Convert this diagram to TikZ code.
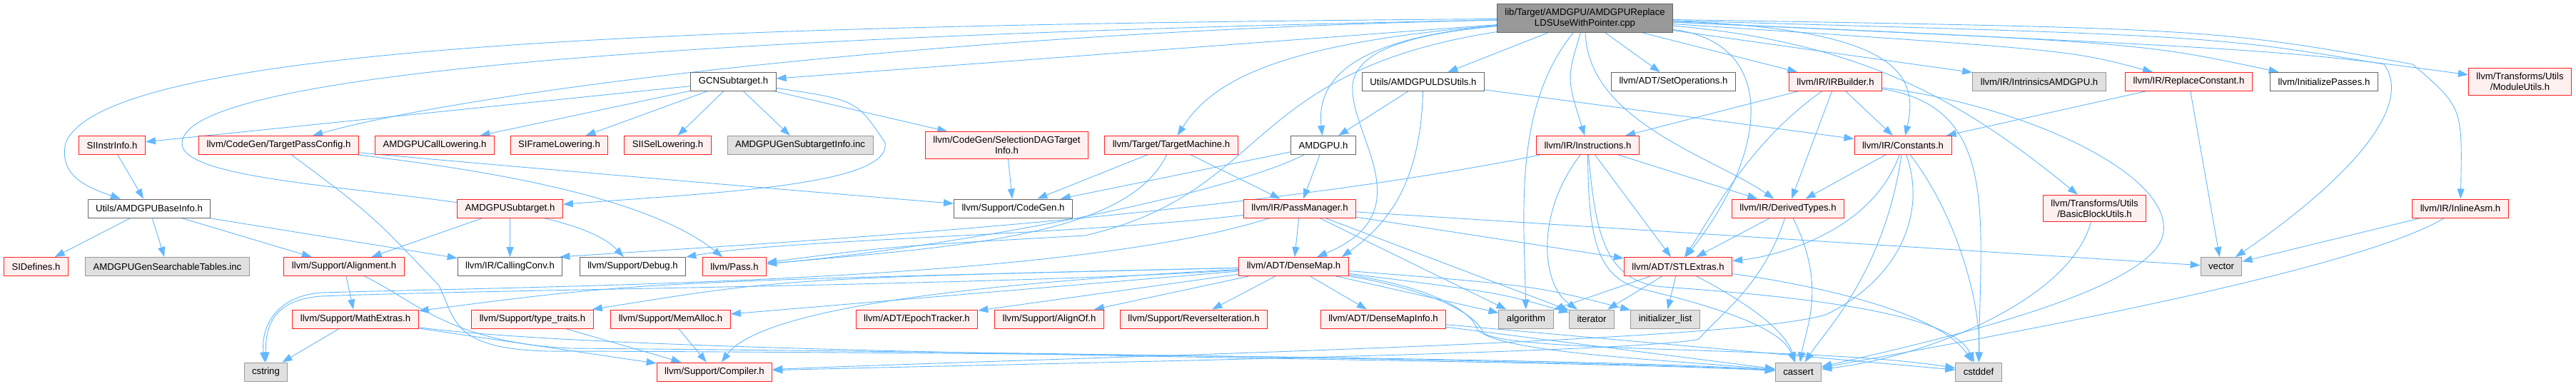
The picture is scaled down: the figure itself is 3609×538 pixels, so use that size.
\documentclass[tikz,border=0pt]{standalone}
\usepackage{fontspec}
\setmainfont{Liberation Sans}
\usetikzlibrary{arrows.meta}
\definecolor{inclblue}{HTML}{63B8FF}
\definecolor{truncred}{HTML}{FF2020}
\definecolor{truncfill}{HTML}{FFF0F0}
\definecolor{sysfill}{HTML}{E0E0E0}
\definecolor{sysgray}{HTML}{999999}
\definecolor{hdrgray}{HTML}{666666}
\pgfdeclarelayer{edges}
\pgfsetlayers{edges,main}
\tikzset{
  file/.style={rectangle, font=\fontsize{13.15}{15}\selectfont, align=center,
    inner xsep=11pt, inner ysep=6.5pt, minimum height=26pt, line width=1pt},
  root/.style={file, draw=hdrgray, fill=sysgray},
  hdr/.style={file, draw=hdrgray, fill=white},
  trunc/.style={file, draw=truncred, fill=truncfill},
  sys/.style={file, draw=sysgray, fill=sysfill},
  incl/.style={->, draw=inclblue, line width=0.9pt}
}
\begin{document}
\begin{tikzpicture}[x=1pt, y=-1pt, >={Triangle[length=14pt,width=10pt]}]
  \useasboundingbox (0,0) rectangle (3609,538);
  \node[root] (cpp) at (2220.5,25.5) {lib/Target/AMDGPU/AMDGPUReplace\\LDSUseWithPointer.cpp};
  % row 1
  \node[hdr] (gcn) at (1027.5,114.5) {GCNSubtarget.h};
  \node[hdr] (ldsutils) at (1994,114.5) {Utils/AMDGPULDSUtils.h};
  \node[hdr] (setops) at (2344.5,114.5) {llvm/ADT/SetOperations.h};
  \node[trunc] (irbuilder) at (2571.5,114.5) {llvm/IR/IRBuilder.h};
  \node[sys] (intrin) at (2857,114.5) {llvm/IR/IntrinsicsAMDGPU.h};
  \node[trunc] (replconst) at (3066.5,114.5) {llvm/IR/ReplaceConstant.h};
  \node[hdr] (initpasses) at (3256,114.5) {llvm/InitializePasses.h};
  \node[trunc] (modutils) at (3530.5,114.5) {llvm/Transforms/Utils\\/ModuleUtils.h};
  % row 2
  \node[trunc] (siinstr) at (157,203.5) {SIInstrInfo.h};
  \node[trunc] (tpc) at (390.5,203.5) {llvm/CodeGen/TargetPassConfig.h};
  \node[trunc] (calllow) at (609,203.5) {AMDGPUCallLowering.h};
  \node[trunc] (sifl) at (783.5,203.5) {SIFrameLowering.h};
  \node[trunc] (siisel) at (935.5,203.5) {SIISelLowering.h};
  \node[sys] (gensubt) at (1121,203.5) {AMDGPUGenSubtargetInfo.inc};
  \node[trunc] (seldag) at (1410.5,203.5) {llvm/CodeGen/SelectionDAGTarget\\Info.h};
  \node[trunc] (tm) at (1641,203.5) {llvm/Target/TargetMachine.h};
  \node[hdr] (amdgpu) at (1854,203.5) {AMDGPU.h};
  \node[trunc] (instr) at (2224.5,203.5) {llvm/IR/Instructions.h};
  \node[trunc] (constants) at (2666,203.5) {llvm/IR/Constants.h};
  % row 3
  \node[hdr] (baseinfo) at (209,292) {Utils/AMDGPUBaseInfo.h};
  \node[trunc] (amdsubt) at (714.5,292) {AMDGPUSubtarget.h};
  \node[hdr] (cgen) at (1419.5,292) {llvm/Support/CodeGen.h};
  \node[trunc] (pm) at (1821,292) {llvm/IR/PassManager.h};
  \node[trunc] (derived) at (2505,292) {llvm/IR/DerivedTypes.h};
  \node[trunc] (bbutils) at (2934.5,292) {llvm/Transforms/Utils\\/BasicBlockUtils.h};
  \node[trunc] (inlineasm) at (3447,292) {llvm/IR/InlineAsm.h};
  % row 4
  \node[trunc] (sidefines) at (50.5,373.5) {SIDefines.h};
  \node[sys] (searchtab) at (234.5,373.5) {AMDGPUGenSearchableTables.inc};
  \node[trunc] (align) at (482,373.5) {llvm/Support/Alignment.h};
  \node[hdr] (callconv) at (714.5,373.5) {llvm/IR/CallingConv.h};
  \node[hdr] (debug) at (886.5,373.5) {llvm/Support/Debug.h};
  \node[trunc] (pass) at (1029,373.5) {llvm/Pass.h};
  \node[trunc] (densemap) at (1812.5,373.5) {llvm/ADT/DenseMap.h};
  \node[trunc] (stlextras) at (2351,373.5) {llvm/ADT/STLExtras.h};
  \node[sys] (vector) at (3112,373.5) {vector};
  % row 5
  \node[trunc] (mathextras) at (498,447) {llvm/Support/MathExtras.h};
  \node[trunc] (typetraits) at (746,447) {llvm/Support/type\_traits.h};
  \node[trunc] (memalloc) at (939.5,447) {llvm/Support/MemAlloc.h};
  \node[trunc] (epoch) at (1284.5,447) {llvm/ADT/EpochTracker.h};
  \node[trunc] (alignof) at (1470,447) {llvm/Support/AlignOf.h};
  \node[trunc] (reviter) at (1672.5,447) {llvm/Support/ReverseIteration.h};
  \node[trunc] (dmapinfo) at (1938,447) {llvm/ADT/DenseMapInfo.h};
  \node[sys] (algorithm) at (2138,447) {algorithm};
  \node[sys] (iterator) at (2230,447) {iterator};
  \node[sys] (initlist) at (2333,447) {initializer\_list};
  % row 6
  \node[sys] (cstring) at (372.5,521) {cstring};
  \node[trunc] (compiler) at (1001,521) {llvm/Support/Compiler.h};
  \node[sys] (cassert) at (2519.5,521) {cassert};
  \node[sys] (cstddef) at (2772,521) {cstddef};

  \begin{pgfonlayer}{edges}
  \draw[incl] (cpp) -- (gcn);
  \draw[incl] (cpp) .. controls (1000,35) and (150,60) .. (92,200) .. controls (82,245) and (120,262) .. (baseinfo);
  \draw[incl] (cpp) .. controls (1300,45) and (650,130) .. (tpc);
  \draw[incl] (cpp) .. controls (1000,50) and (260,100) .. (255,200) .. controls (250,275) and (780,260) .. (debug);
  \draw[incl] (cpp) .. controls (1740,100) and (1780,270) .. (1520,330) .. controls (1250,345) .. (pass);
  \draw[incl] (cpp) .. controls (1880,55) and (1845,120) .. (amdgpu);
  \draw[incl] (cpp) .. controls (1950,50) and (1890,80) .. (1895,130) .. controls (1900,200) and (1990,300) .. (densemap);
  \draw[incl] (cpp) -- (ldsutils);
  \draw[incl] (cpp) .. controls (2120,150) and (2135,300) .. (algorithm);
  \draw[incl] (cpp) .. controls (2195,110) .. (instr);
  \draw[incl] (cpp) -- (setops);
  \draw[incl] (cpp) .. controls (2490,60) and (2480,210) .. (stlextras);
  \draw[incl] (cpp) .. controls (2225,170) and (2400,220) .. (derived);
  \draw[incl] (cpp) -- (irbuilder);
  \draw[incl] (cpp) .. controls (2650,40) and (2690,100) .. (constants);
  \draw[incl] (cpp) -- (intrin);
  \draw[incl] (cpp) .. controls (2900,70) .. (replconst);
  \draw[incl] (cpp) .. controls (3000,60) .. (initpasses);
  \draw[incl] (cpp) .. controls (3200,70) .. (modutils);
  \draw[incl] (cpp) .. controls (2620,60) and (2760,150) .. (bbutils);
  \draw[incl] (cpp) .. controls (3100,40) .. (3380,90) .. controls (3450,150) .. (inlineasm);
  \draw[incl] (cpp) .. controls (3100,50) .. (3340,90) .. controls (3390,160) and (3250,280) .. (vector);
  \draw[incl] (cpp) .. controls (1800,60) and (1700,110) .. (tm);

  \draw[incl] (gcn) -- (siinstr);
  \draw[incl] (gcn) -- (calllow);
  \draw[incl] (gcn) -- (sifl);
  \draw[incl] (gcn) -- (siisel);
  \draw[incl] (gcn) -- (gensubt);
  \draw[incl] (gcn) -- (seldag);
  \draw[incl] (gcn) .. controls (1200,140) .. (1240,200) .. controls (1250,260) and (1000,270) .. (amdsubt);

  \draw[incl] (siinstr) -- (baseinfo);
  \draw[incl] (tpc) .. controls (650,235) and (900,270) .. (pass);
  \draw[incl] (tpc) .. controls (700,232) and (1150,270) .. (cgen);
  \draw[incl] (tpc) .. controls (520,300) .. (615,400) .. controls (640,450) and (630,495) .. (800,492) .. controls (1600,495) and (2300,505) .. (cassert);
  \draw[incl] (baseinfo) -- (sidefines);
  \draw[incl] (baseinfo) -- (searchtab);
  \draw[incl] (baseinfo) -- (align);
  \draw[incl] (baseinfo) -- (callconv);
  \draw[incl] (amdsubt) -- (callconv);
  \draw[incl] (amdsubt) -- (align);
  \draw[incl] (align) -- (mathextras);
  \draw[incl] (align) .. controls (580,420) and (630,480) .. (800,488) .. controls (1600,495) and (2300,508) .. (cassert);
  \draw[incl] (mathextras) -- (cstring);
  \draw[incl] (mathextras) -- (compiler);
  \draw[incl] (mathextras) .. controls (900,500) and (2100,500) .. (cassert);
  \draw[incl] (typetraits) -- (compiler);
  \draw[incl] (memalloc) -- (compiler);

  \draw[incl] (densemap) .. controls (1100,390) .. (typetraits);
  \draw[incl] (densemap) -- (memalloc);
  \draw[incl] (densemap) -- (epoch);
  \draw[incl] (densemap) -- (alignof);
  \draw[incl] (densemap) -- (reviter);
  \draw[incl] (densemap) -- (dmapinfo);
  \draw[incl] (densemap) .. controls (900,395) .. (mathextras);
  \draw[incl] (densemap) -- (algorithm);
  \draw[incl] (densemap) .. controls (2100,410) .. (iterator);
  \draw[incl] (densemap) .. controls (2150,400) .. (initlist);
  \draw[incl] (densemap) .. controls (1300,400) and (1060,440) .. (compiler);
  \draw[incl] (densemap) .. controls (1990,400) and (2060,430) .. (2070,462) .. controls (2100,495) and (2350,505) .. (cassert);
  \draw[incl] (densemap) .. controls (1995,405) and (2065,435) .. (2078,466) .. controls (2110,495) and (2550,485) .. (cstddef);
  \draw[incl] (densemap) .. controls (1400,400) and (700,405) .. (450,415) .. controls (380,420) and (372,460) .. (cstring);

  \draw[incl] (pm) -- (densemap);
  \draw[incl] (pm) -- (stlextras);
  \draw[incl] (pm) -- (algorithm);
  \draw[incl] (pm) -- (iterator);
  \draw[incl] (pm) -- (vector);
  \draw[incl] (pm) .. controls (1500,330) and (1100,335) .. (debug);
  \draw[incl] (pm) .. controls (1500,395) and (800,400) .. (450,410) .. controls (385,415) and (365,460) .. (cstring);

  \draw[incl] (amdgpu) -- (pm);
  \draw[incl] (amdgpu) -- (cgen);
  \draw[incl] (amdgpu) .. controls (1700,280) and (1300,350) .. (pass);
  \draw[incl] (tm) -- (cgen);
  \draw[incl] (tm) -- (pm);
  \draw[incl] (tm) .. controls (1580,330) and (1350,345) .. (pass);
  \draw[incl] (seldag) -- (cgen);
  \draw[incl] (ldsutils) -- (amdgpu);
  \draw[incl] (ldsutils) .. controls (1990,250) and (1950,310) .. ([xshift=-10pt]densemap.north east);
  \draw[incl] (ldsutils) -- (constants);

  \draw[incl] (instr) -- (stlextras);
  \draw[incl] (instr) -- (derived);
  \draw[incl] (instr) .. controls (2150,300) and (2160,400) .. (iterator);
  \draw[incl] (instr) .. controls (2225,340) and (2240,390) .. (2300,405) .. controls (2450,440) and (2500,470) .. (cassert);
  \draw[incl] (instr) .. controls (2235,330) and (2250,395) .. (2330,402) .. controls (2600,420) and (2740,450) .. (cstddef);
  \draw[incl] (instr) .. controls (1700,310) and (1000,345) .. ([xshift=-4pt]callconv.north east);

  \draw[incl] (derived) -- (stlextras);
  \draw[incl] (derived) .. controls (2560,400) and (2530,460) .. (cassert);
  \draw[incl] (derived) .. controls (2470,400) and (2410,440) .. (2380,475) .. controls (2300,495) and (1400,510) .. (compiler);
  \draw[incl] (constants) -- (derived);
  \draw[incl] (constants) .. controls (2620,330) and (2480,360) .. (stlextras);
  \draw[incl] (constants) .. controls (2640,380) and (2560,460) .. (cassert);
  \draw[incl] (constants) .. controls (2740,300) and (2775,420) .. (cstddef);
  \draw[incl] (constants) .. controls (2700,300) and (2660,390) .. (2560,440) .. controls (2450,480) and (1500,500) .. (compiler);
  \draw[incl] (irbuilder) -- (instr);
  \draw[incl] (irbuilder) -- (constants);
  \draw[incl] (irbuilder) -- (derived);
  \draw[incl] (irbuilder) .. controls (2450,200) and (2400,300) .. (stlextras);
  \draw[incl] (irbuilder) .. controls (2800,150) and (2775,300) .. (cstddef);
  \draw[incl] (irbuilder) .. controls (2850,150) and (3050,250) .. (3030,330) .. controls (3010,410) and (2700,480) .. (cassert);
  \draw[incl] (replconst) -- (constants);
  \draw[incl] (replconst) -- (vector);
  \draw[incl] (bbutils) .. controls (2900,420) and (2700,500) .. (cassert);
  \draw[incl] (inlineasm) -- (vector);
  \draw[incl] (inlineasm) .. controls (3300,380) and (2800,470) .. (cassert);
  \draw[incl] (stlextras) -- (algorithm);
  \draw[incl] (stlextras) -- (iterator);
  \draw[incl] (stlextras) -- (initlist);
  \draw[incl] (stlextras) .. controls (2440,420) and (2500,460) .. (cassert);
  \draw[incl] (stlextras) .. controls (2550,400) and (2720,440) .. (cstddef);
  \draw[incl] (dmapinfo) -- (cassert);
  \draw[incl] (dmapinfo) -- (cstddef);
  \end{pgfonlayer}
\end{tikzpicture}
\end{document}
